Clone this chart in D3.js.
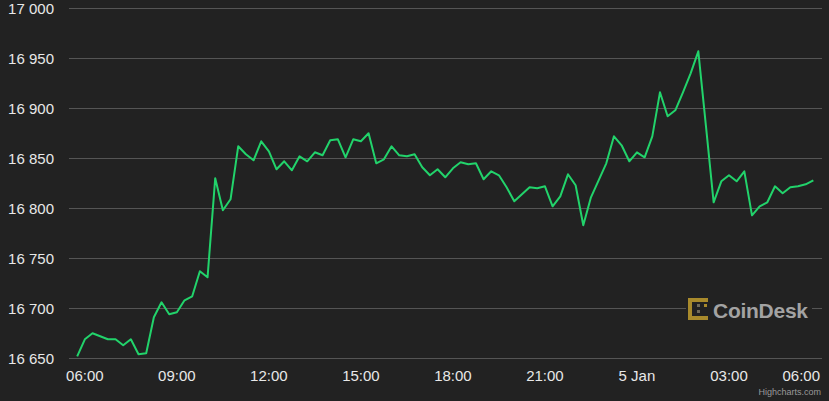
<!DOCTYPE html>
<meta charset="utf-8">
<style>

body {
  margin: 0;
  background: #222222;
}

svg {
  display: block;
  font-family: "Liberation Sans", Arial, sans-serif;
}

.grid line {
  stroke: #555555;
  stroke-width: 1px;
}

.axis text {
  fill: #e8e8e8;
  font-size: 15px;
}

.price-line {
  fill: none;
  stroke: #22d36b;
  stroke-width: 2px;
  stroke-linejoin: round;
}

</style>
<svg width="829" height="401"></svg>
<script src="https://d3js.org/d3.v7.min.js"></script>
<script>

// BTC price, one reading every 15 minutes starting 4 Jan 05:45
var startTime = new Date(2023, 0, 4, 5, 45);
var stepMinutes = 15;

var prices = [
  16652, 16669, 16675, 16672, 16669, 16669, 16663, 16669, 16654, 16655,
  16691, 16706, 16694, 16696, 16708, 16712, 16737, 16731, 16830, 16798,
  16809, 16862, 16854, 16848, 16867, 16857, 16839, 16847, 16838, 16852,
  16847, 16856, 16853, 16868, 16869, 16851, 16869, 16867, 16875, 16845,
  16849, 16862, 16853, 16852, 16854, 16841, 16833, 16839, 16831, 16840,
  16846, 16844, 16845, 16829, 16837, 16833, 16821, 16807, 16814, 16821,
  16820, 16822, 16802, 16812, 16834, 16823, 16783, 16811, 16828, 16845,
  16872, 16863, 16847, 16856, 16851, 16872, 16916, 16892, 16898, 16916,
  16935, 16957, 16882, 16806, 16827, 16833, 16827, 16837, 16793, 16802,
  16806, 16822, 16815, 16821, 16822, 16824, 16828
];

var yTicks = [16650, 16700, 16750, 16800, 16850, 16900, 16950, 17000];

// x axis range shown on the chart
var xStart = new Date(2023, 0, 4, 5, 29);
var xEnd = new Date(2023, 0, 5, 6, 0);

var svg = d3.select("svg"),
    width = +svg.attr("width"),
    height = +svg.attr("height");

var plotLeft = 69, plotRight = 821, plotTop = 8.3, plotBottom = 358.3;

svg.append("rect")
    .attr("width", width)
    .attr("height", height)
    .attr("fill", "#222222");

var data = prices.map(function(p, i) {
  return { t: d3.timeMinute.offset(startTime, i * stepMinutes), v: p };
});

var x = d3.scaleTime().domain([xStart, xEnd]).range([plotLeft, plotRight]);
var y = d3.scaleLinear().domain([16650, 17000]).range([plotBottom, plotTop]);

var fmtNum = d3.formatLocale({ decimal: ".", thousands: " ", grouping: [3], currency: ["", ""] }).format(",");

// horizontal grid lines
svg.append("g")
    .attr("class", "grid")
    .selectAll("line")
    .data(yTicks)
    .enter().append("line")
    .attr("x1", plotLeft)
    .attr("x2", plotRight + 1)
    .attr("y1", function(d) { return Math.round(y(d)) + 0.5; })
    .attr("y2", function(d) { return Math.round(y(d)) + 0.5; });

// y labels
svg.append("g")
    .attr("class", "axis")
    .selectAll("text")
    .data(yTicks)
    .enter().append("text")
    .attr("x", 54)
    .attr("y", function(d) { return y(d) + 6; })
    .attr("text-anchor", "end")
    .text(function(d) { return fmtNum(d); });

// x labels, every 3 hours
var xTicks = x.ticks(d3.timeHour.every(3));
var fmtHour = d3.timeFormat("%H:%M"), fmtDay = d3.timeFormat("%-d %b");

var xLabels = svg.append("g")
    .attr("class", "axis")
    .selectAll("text")
    .data(xTicks)
    .enter().append("text")
    .attr("y", 380.5)
    .text(function(d) { return d.getHours() === 0 ? fmtDay(d) : fmtHour(d); })
    .attr("text-anchor", "middle")
    .attr("x", function(d) { return x(d); });

// keep the last label inside the chart like highcharts does
xLabels.each(function(d) {
  var w = this.getComputedTextLength();
  if (x(d) + w / 2 > 820) {
    d3.select(this).attr("text-anchor", "end").attr("x", 820);
  }
});

// coindesk watermark
var logo = svg.append("g").attr("transform", "translate(686,296)");
logo.append("rect")
    .attr("width", 126).attr("height", 27)
    .attr("fill", "#222222");
var gold = "#a88a2c";
// bracket shaped icon
logo.append("rect").attr("x", 2).attr("y", 2).attr("width", 20).attr("height", 4).attr("fill", gold);
logo.append("rect").attr("x", 2).attr("y", 20).attr("width", 20).attr("height", 4).attr("fill", gold);
logo.append("rect").attr("x", 2).attr("y", 2).attr("width", 4).attr("height", 22).attr("fill", gold);
logo.append("rect").attr("x", 11).attr("y", 8).attr("width", 3).attr("height", 3).attr("fill", "#6f6a5a");
logo.append("rect").attr("x", 11).attr("y", 14).attr("width", 3).attr("height", 3).attr("fill", "#6f6a5a");
logo.append("rect").attr("x", 18).attr("y", 8).attr("width", 3).attr("height", 3).attr("fill", gold);
logo.append("text")
    .attr("x", 27)
    .attr("y", 22)
    .attr("fill", "#a3a3a3")
    .style("font-size", "21px")
    .style("font-weight", "bold")
    .attr("textLength", 95)
    .text("CoinDesk");

// price line
var line = d3.line()
    .x(function(d) { return x(d.t); })
    .y(function(d) { return y(d.v); });

svg.append("path")
    .datum(data)
    .attr("class", "price-line")
    .attr("d", line);

// credits
svg.append("text")
    .attr("x", 821)
    .attr("y", 395)
    .attr("text-anchor", "end")
    .attr("fill", "#999999")
    .style("font-size", "9px")
    .text("Highcharts.com");

</script>
